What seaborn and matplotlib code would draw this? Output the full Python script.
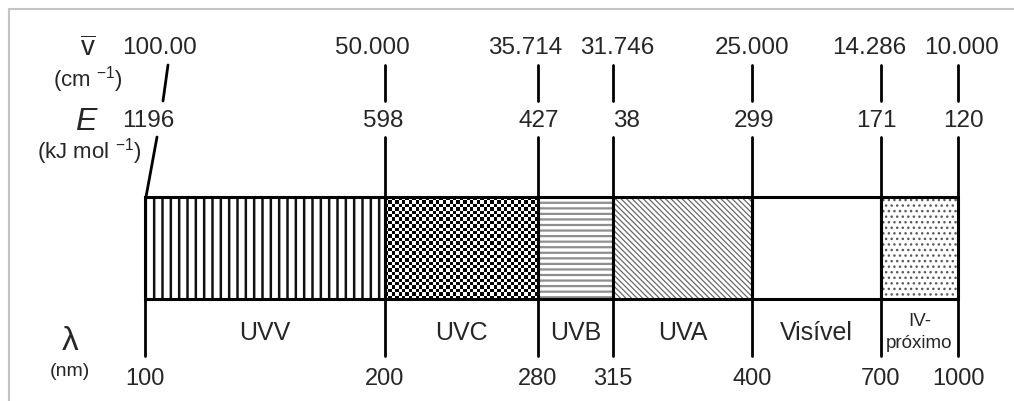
import numpy as np
import seaborn as sns
import matplotlib
matplotlib.use("Agg")
import matplotlib.pyplot as plt

# ----- data -----
bands = ['UVV', 'UVC', 'UVB', 'UVA', 'Visível', 'IV-\npróximo']
wavelengths = [100, 200, 280, 315, 400, 700, 1000]
wavenumber_labels = ['100.00', '50.000', '35.714', '31.746', '25.000', '14.286', '10.000']
energy_labels = ['1196', '598', '427', '38', '299', '171', '120']

# schematic layout (diagram is not to scale), in pixel units
edge_x = [145, 385, 538, 613, 752, 881, 958]
nu_dx = [15, -13, -13, 4, 0, -12, 4]
e_dx = [3, -2, 1, 13, 2, -5, 5]
bar_top, bar_bottom = 197, 299

hatches = ['||', None, '---', '\\\\\\\\\\\\', '', '...']
hatch_colors = ['#111111', 'black', '#8e8e8e', '#6a6a6a', 'white', '#5a5a5a']
hatch_lw = [1.8, 1.0, 1.6, 0.9, 1.0, 1.0]

sns.set_theme(style="white")
plt.rcParams['font.family'] = ['Liberation Sans', 'DejaVu Sans']
plt.rcParams['mathtext.fontset'] = 'custom'
plt.rcParams['mathtext.rm'] = 'Liberation Sans'
plt.rcParams['mathtext.it'] = 'Liberation Sans:italic'
plt.rcParams['mathtext.default'] = 'regular'

fig = plt.figure(figsize=(10.14, 4.01), dpi=100)
ax = fig.add_axes([0, 0, 1, 1])
ax.set_xlim(0, 1014)
ax.set_ylim(401, 0)
ax.axis('off')

# gray frame (top and left)
ax.plot([9, 1014], [9, 9], color='#c4c4c4', lw=1.5)
ax.plot([9, 9], [9, 401], color='#c4c4c4', lw=1.5)

lefts = np.array(edge_x[:-1])
widths = np.diff(edge_x)
height = bar_bottom - bar_top
center_y = (bar_top + bar_bottom) / 2

# band fills
for i, band in enumerate(bands):
    if hatches[i] is None:
        # checkerboard for UVC
        nx = int(round(widths[i] / 3.4))
        ny = int(round(height / 3.4))
        checker = (np.indices((ny, nx)).sum(axis=0) % 2).astype(float)
        ax.imshow(checker, cmap='gray', interpolation='nearest', aspect='auto',
                  extent=(lefts[i], lefts[i] + widths[i], bar_bottom, bar_top), zorder=1)
        continue
    plt.rcParams['hatch.linewidth'] = hatch_lw[i]
    bars = ax.barh(center_y, widths[i], left=lefts[i], height=height,
                   facecolor='white', edgecolor=hatch_colors[i],
                   hatch=hatches[i] or None, linewidth=0, zorder=1)
    for b in bars:
        try:
            b.set_hatch_linewidth(hatch_lw[i])
        except AttributeError:
            pass

ax.set_xlim(0, 1014)
ax.set_ylim(401, 0)

# band outlines
ax.barh(center_y, widths, left=lefts, height=height, fill=False,
        edgecolor='black', linewidth=2.2, zorder=3)

# lower ticks and wavelength labels
for i, wl in enumerate(wavelengths):
    ax.plot([edge_x[i], edge_x[i]], [bar_bottom, 356], color='black', lw=2.0, zorder=3)
    ax.text(edge_x[i], 379, str(wl), ha='center', va='center', fontsize=17)

# band names
for i, band in enumerate(bands):
    cx = lefts[i] + widths[i] / 2
    if '\n' in band:
        top, bot = band.split('\n')
        ax.text(cx, 322, top, ha='center', va='center', fontsize=13.5)
        ax.text(cx, 343, bot, ha='center', va='center', fontsize=13.5)
    else:
        ax.text(cx, 333, band, ha='center', va='center', fontsize=18)

# upper ticks: wavenumber and energy
for i in range(len(wavelengths)):
    x = edge_x[i]
    if i == 0:
        ax.plot([168, 163], [65, 101], color='black', lw=2.0)
        ax.plot([157, 146], [137, 197], color='black', lw=2.0)
    else:
        ax.plot([x, x], [65, 101], color='black', lw=2.0)
        ax.plot([x, x], [137, bar_top], color='black', lw=2.0, zorder=3)
    ax.text(x + nu_dx[i], 48, wavenumber_labels[i], ha='center', va='center', fontsize=17.5)
    ax.text(x + e_dx[i], 121, energy_labels[i], ha='center', va='center', fontsize=17.5)

# axis row labels
ax.text(88, 49, r'$\overline{v}$', ha='center', va='center', fontsize=20)
ax.text(88, 80, r'(cm $^{-1}$)', ha='center', va='center', fontsize=16)
ax.text(86, 122, 'E', ha='center', va='center', fontsize=23, style='italic')
ax.text(89, 152, r'(kJ mol $^{-1}$)', ha='center', va='center', fontsize=16)
ax.text(70, 342, 'λ', ha='center', va='center', fontsize=24)
ax.text(70, 372, '(nm)', ha='center', va='center', fontsize=14)

fig.savefig('out.png', dpi=100)
